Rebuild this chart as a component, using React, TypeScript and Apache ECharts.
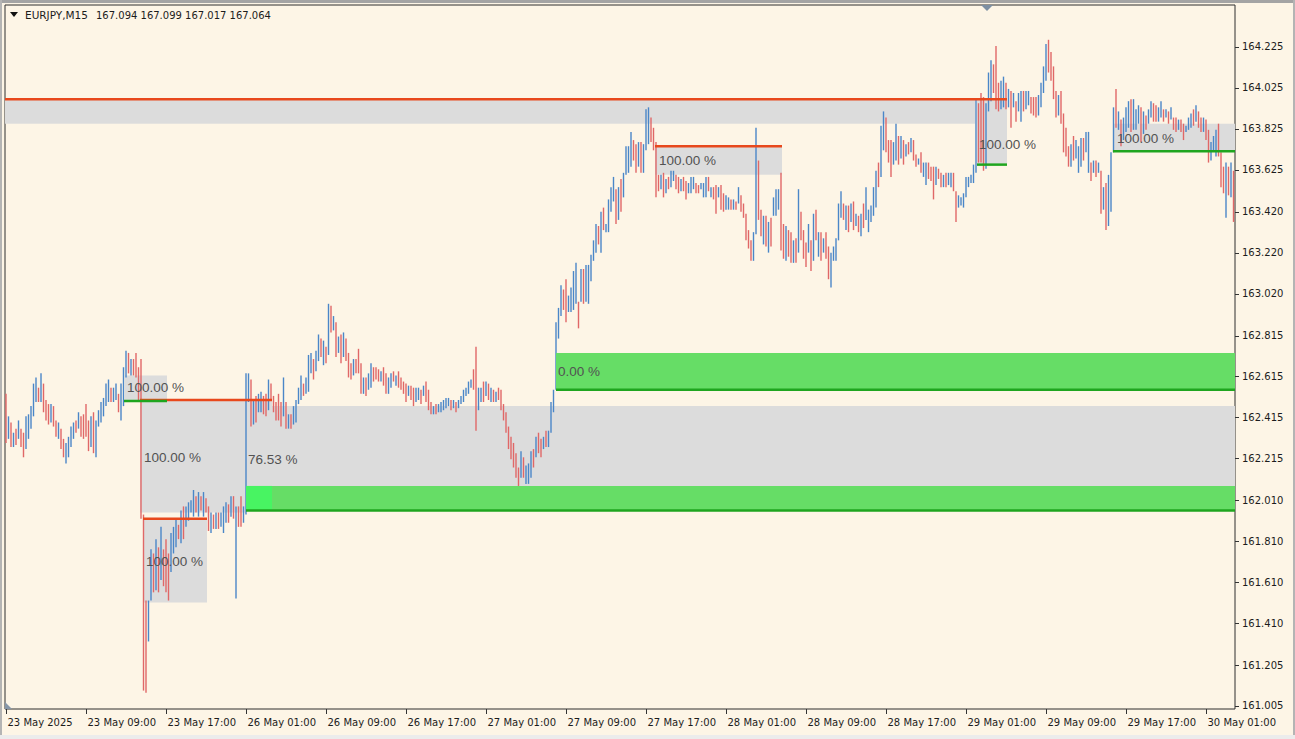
import React, { useEffect, useRef } from "react";
import * as echarts from "echarts";

// ---------- DATA (EURJPY M15 bars) ----------
const OPEN0 = 162.45;
const HIGH = [
  162.53,162.42,162.39,162.34,162.36,162.40,162.36,162.34,162.42,162.43,
  162.47,162.58,162.61,162.56,162.63,162.58,162.50,162.48,162.48,162.47,
  162.40,162.39,162.36,162.31,162.29,162.32,162.37,162.39,162.40,162.44,
  162.42,162.43,162.48,162.40,162.42,162.44,162.40,162.45,162.49,162.51,
  162.58,162.60,162.56,162.56,162.58,162.53,162.58,162.66,162.74,162.73,
  162.70,162.70,162.73,162.66,162.70,161.94,161.52,161.52,161.77,161.75,
  161.82,161.78,161.88,161.77,161.82,161.75,161.85,161.88,161.92,161.89,
  161.96,161.98,161.98,162.00,162.01,162.06,162.03,162.05,162.03,162.05,
  162.02,161.98,161.95,161.94,161.95,161.95,161.95,161.98,162.00,161.99,
  162.03,162.03,161.98,161.98,162.03,161.98,162.63,162.63,162.60,162.50,
  162.52,162.53,162.54,162.52,162.53,162.60,162.58,162.52,162.49,162.53,
  162.49,162.61,162.49,162.43,162.43,162.47,162.50,162.56,162.62,162.58,
  162.61,162.72,162.73,162.70,162.74,162.82,162.80,162.79,162.76,162.97,
  162.96,162.91,162.88,162.81,162.82,162.83,162.80,162.73,162.68,162.70,
  162.70,162.75,162.68,162.61,162.61,162.63,162.68,162.66,162.66,162.65,
  162.64,162.66,162.63,162.61,162.63,162.64,162.62,162.64,162.61,162.59,
  162.58,162.57,162.57,162.56,162.56,162.56,162.55,162.57,162.59,162.55,
  162.49,162.47,162.48,162.48,162.49,162.50,162.51,162.51,162.50,162.50,
  162.49,162.50,162.52,162.55,162.56,162.59,162.60,162.65,162.76,162.56,
  162.56,162.59,162.59,162.58,162.56,162.55,162.54,162.56,162.55,162.48,
  162.44,162.37,162.32,162.29,162.24,162.17,162.25,162.22,162.18,162.19,
  162.25,162.26,162.32,162.34,162.31,162.32,162.35,162.35,162.49,162.55,
  162.88,162.95,163.06,163.04,163.09,163.01,163.05,163.13,163.17,162.98,
  163.14,163.14,163.16,163.16,163.21,163.28,163.36,163.35,163.42,163.44,
  163.36,163.48,163.54,163.59,163.53,163.54,163.58,163.61,163.74,163.74,
  163.81,163.77,163.75,163.76,163.76,163.75,163.92,163.93,163.88,163.83,
  163.76,163.60,163.60,163.61,163.58,163.59,163.62,163.62,163.60,163.59,
  163.58,163.59,163.57,163.56,163.59,163.59,163.56,163.55,163.56,163.56,
  163.59,163.59,163.54,163.54,163.55,163.54,163.55,163.51,163.50,163.49,
  163.48,163.48,163.47,163.54,163.50,163.46,163.41,163.33,163.28,163.32,
  163.83,163.67,163.43,163.40,163.40,163.37,163.39,163.49,163.53,163.53,
  163.61,163.36,163.35,163.33,163.32,163.28,163.29,163.53,163.42,163.33,
  163.27,163.36,163.28,163.41,163.43,163.32,163.32,163.29,163.32,163.25,
  163.22,163.25,163.29,163.46,163.52,163.46,163.45,163.45,163.46,163.47,
  163.41,163.40,163.41,163.46,163.54,163.43,163.45,163.54,163.62,163.66,
  163.84,163.91,163.88,163.77,163.77,163.76,163.85,163.79,163.79,163.77,
  163.75,163.76,163.78,163.77,163.70,163.68,163.71,163.66,163.66,163.66,
  163.64,163.64,163.64,163.63,163.61,163.60,163.61,163.61,163.61,163.61,
  163.52,163.50,163.49,163.51,163.59,163.59,163.60,163.65,163.97,163.95,
  164.00,163.98,163.95,164.10,164.16,164.14,164.23,164.05,164.06,164.08,
  164.05,164.02,164.01,164.00,163.96,164.00,164.01,164.01,164.01,164.01,
  163.98,163.98,163.98,163.99,164.05,164.13,164.24,164.26,164.20,164.13,
  164.01,163.99,164.01,163.90,163.83,163.74,163.75,163.79,163.77,163.74,
  163.78,163.78,163.81,163.81,163.66,163.67,163.67,163.66,163.62,163.54,
  163.56,163.60,163.71,163.93,164.02,163.91,163.87,163.88,163.93,163.96,
  163.97,163.97,163.92,163.94,163.93,163.91,163.89,163.92,163.96,163.95,
  163.94,163.93,163.96,163.92,163.92,163.91,163.93,163.88,163.88,163.87,
  163.87,163.85,163.84,163.88,163.90,163.92,163.94,163.91,163.88,163.88,
  163.87,163.82,163.76,163.79,163.82,163.85,163.71,163.64,163.66,163.64,
  163.66,163.62,
];
const LOW = [
  162.29,162.31,162.27,162.27,162.28,162.31,162.27,162.22,162.26,162.31,
  162.36,162.42,162.49,162.49,162.49,162.44,162.40,162.38,162.39,162.37,
  162.32,162.31,162.26,162.22,162.19,162.22,162.27,162.31,162.34,162.36,
  162.32,162.31,162.32,162.25,162.27,162.24,162.22,162.37,162.39,162.42,
  162.47,162.49,162.49,162.49,162.50,162.44,162.40,162.47,162.61,162.63,
  162.62,162.62,162.61,162.50,161.92,161.08,161.07,161.32,161.52,161.56,
  161.57,161.56,161.62,161.59,161.56,161.52,161.66,161.75,161.78,161.82,
  161.80,161.82,161.88,161.91,161.95,161.93,161.95,161.93,161.96,161.93,
  161.95,161.86,161.85,161.87,161.87,161.87,161.88,161.85,161.90,161.90,
  161.93,161.92,161.53,161.88,161.88,161.90,161.94,162.49,162.37,162.38,
  162.39,162.44,162.44,162.43,162.42,162.45,162.50,162.44,162.40,162.40,
  162.37,162.42,162.36,162.36,162.36,162.38,162.39,162.48,162.50,162.52,
  162.53,162.54,162.63,162.60,162.64,162.69,162.71,162.67,162.68,162.72,
  162.83,162.84,162.71,162.73,162.68,162.71,162.69,162.61,162.60,162.62,
  162.63,162.63,162.53,162.53,162.52,162.55,162.56,162.59,162.60,162.59,
  162.59,162.57,162.53,162.53,162.56,162.59,162.57,162.56,162.55,162.53,
  162.49,162.52,162.50,162.47,162.49,162.50,162.48,162.52,162.49,162.45,
  162.43,162.43,162.43,162.44,162.44,162.45,162.46,162.47,162.45,162.46,
  162.44,162.46,162.48,162.49,162.52,162.53,162.56,162.55,162.35,162.45,
  162.49,162.49,162.52,162.50,162.49,162.49,162.49,162.50,162.45,162.40,
  162.34,162.26,162.21,162.17,162.12,162.07,162.12,162.12,162.09,162.09,
  162.12,162.17,162.22,162.24,162.22,162.26,162.27,162.27,162.34,162.44,
  162.55,162.80,162.91,162.94,162.88,162.93,162.93,162.94,162.97,162.85,
  162.98,162.97,162.98,162.97,163.08,163.18,163.22,163.26,163.22,163.33,
  163.32,163.32,163.42,163.47,163.36,163.38,163.42,163.49,163.60,163.61,
  163.64,163.67,163.61,163.64,163.61,163.61,163.72,163.75,163.76,163.72,
  163.49,163.52,163.53,163.49,163.51,163.53,163.54,163.57,163.53,163.51,
  163.52,163.52,163.48,163.51,163.51,163.53,163.51,163.51,163.53,163.49,
  163.49,163.52,163.49,163.48,163.41,163.49,163.43,163.42,163.43,163.43,
  163.43,163.43,163.43,163.46,163.42,163.39,163.28,163.24,163.18,163.18,
  163.31,163.38,163.30,163.26,163.25,163.22,163.25,163.40,163.40,163.43,
  163.23,163.19,163.18,163.20,163.17,163.17,163.17,163.22,163.28,163.19,
  163.15,163.22,163.13,163.18,163.28,163.20,163.18,163.22,163.19,163.09,
  163.05,163.18,163.18,163.28,163.39,163.38,163.33,163.32,163.37,163.33,
  163.35,163.32,163.30,163.34,163.38,163.32,163.37,163.40,163.44,163.54,
  163.59,163.72,163.71,163.66,163.59,163.65,163.67,163.65,163.68,163.65,
  163.69,163.70,163.71,163.67,163.64,163.65,163.61,163.59,163.55,163.58,
  163.57,163.48,163.55,163.58,163.54,163.54,163.54,163.55,163.54,163.52,
  163.37,163.44,163.45,163.44,163.49,163.54,163.56,163.56,163.61,163.66,
  163.66,163.62,163.63,163.91,163.96,164.00,163.92,163.91,163.92,163.93,
  163.92,163.93,163.83,163.93,163.86,163.91,163.86,163.91,163.92,163.94,
  163.90,163.89,163.88,163.89,163.93,164.00,164.06,164.10,164.06,163.97,
  163.88,163.89,163.85,163.71,163.69,163.64,163.64,163.67,163.68,163.61,
  163.64,163.67,163.71,163.61,163.57,163.61,163.59,163.61,163.41,163.43,
  163.33,163.35,163.42,163.71,163.83,163.82,163.74,163.77,163.81,163.83,
  163.81,163.82,163.82,163.85,163.76,163.80,163.82,163.85,163.88,163.86,
  163.86,163.86,163.88,163.86,163.88,163.85,163.87,163.82,163.81,163.82,
  163.81,163.77,163.81,163.82,163.83,163.84,163.86,163.83,163.81,163.81,
  163.77,163.66,163.67,163.72,163.69,163.69,163.54,163.51,163.39,163.50,
  163.49,163.37,
];
const CLOSE = [
  162.33,162.40,162.29,162.33,162.29,162.39,162.29,162.23,162.40,162.41,
  162.45,162.56,162.60,162.50,162.62,162.46,162.42,162.39,162.46,162.38,
  162.33,162.38,162.27,162.23,162.28,162.31,162.36,162.38,162.35,162.43,
  162.41,162.33,162.32,162.26,162.40,162.26,162.38,162.44,162.48,162.50,
  162.57,162.59,162.50,162.55,162.57,162.45,162.56,162.64,162.73,162.65,
  162.69,162.63,162.62,162.51,161.93,161.30,161.20,161.50,161.74,161.60,
  161.78,161.60,161.85,161.75,161.60,161.55,161.83,161.87,161.90,161.83,
  161.95,161.85,161.97,161.99,162.00,162.05,161.97,162.04,161.97,162.04,
  161.96,161.87,161.94,161.88,161.94,161.88,161.94,161.97,161.99,161.91,
  162.02,161.93,161.96,161.89,161.88,161.97,162.60,162.61,162.39,162.49,
  162.40,162.52,162.53,162.44,162.43,162.58,162.57,162.45,162.41,162.40,
  162.38,162.43,162.37,162.42,162.37,162.46,162.49,162.55,162.61,162.57,
  162.60,162.70,162.72,162.61,162.73,162.81,162.72,162.78,162.75,162.95,
  162.85,162.85,162.73,162.80,162.69,162.72,162.70,162.62,162.61,162.69,
  162.64,162.63,162.54,162.60,162.53,162.62,162.67,162.65,162.61,162.60,
  162.63,162.58,162.54,162.60,162.62,162.60,162.61,162.57,162.56,162.54,
  162.50,162.56,162.51,162.48,162.55,162.56,162.49,162.56,162.50,162.46,
  162.44,162.46,162.44,162.47,162.48,162.49,162.50,162.51,162.46,162.49,
  162.45,162.49,162.51,162.54,162.56,162.58,162.60,162.56,162.40,162.46,
  162.55,162.50,162.58,162.51,162.55,162.50,162.53,162.51,162.46,162.41,
  162.35,162.27,162.22,162.18,162.13,162.08,162.23,162.13,162.17,162.18,
  162.24,162.18,162.31,162.25,162.23,162.31,162.28,162.34,162.47,162.54,
  162.86,162.93,163.05,162.95,162.89,163.00,163.04,163.12,163.16,162.86,
  163.13,162.98,163.15,163.16,163.20,163.27,163.35,163.27,163.41,163.34,
  163.35,163.47,163.53,163.58,163.37,163.53,163.43,163.50,163.73,163.73,
  163.80,163.68,163.62,163.75,163.62,163.62,163.90,163.92,163.77,163.73,
  163.55,163.53,163.59,163.50,163.57,163.54,163.61,163.62,163.54,163.52,
  163.57,163.53,163.49,163.55,163.58,163.59,163.52,163.51,163.55,163.56,
  163.58,163.53,163.54,163.49,163.43,163.53,163.44,163.43,163.43,163.48,
  163.44,163.47,163.44,163.53,163.43,163.40,163.29,163.25,163.19,163.31,
  163.48,163.40,163.31,163.39,163.26,163.36,163.26,163.48,163.52,163.53,
  163.25,163.20,163.34,163.21,163.18,163.27,163.18,163.50,163.29,163.20,
  163.16,163.35,163.14,163.40,163.29,163.31,163.19,163.28,163.20,163.10,
  163.20,163.24,163.28,163.45,163.51,163.39,163.44,163.33,163.45,163.34,
  163.40,163.33,163.40,163.35,163.39,163.42,163.44,163.53,163.60,163.55,
  163.82,163.90,163.72,163.67,163.60,163.75,163.84,163.66,163.78,163.66,
  163.74,163.71,163.71,163.68,163.65,163.68,163.62,163.65,163.66,163.59,
  163.58,163.50,163.63,163.59,163.55,163.59,163.55,163.60,163.61,163.53,
  163.38,163.44,163.48,163.50,163.58,163.59,163.60,163.64,163.95,163.70,
  163.68,163.65,163.93,164.08,164.14,164.13,163.94,163.92,164.05,164.07,
  163.93,163.93,163.84,163.99,163.87,163.99,164.00,163.92,164.00,164.01,
  163.91,163.90,163.89,163.98,164.04,164.12,164.22,164.12,164.07,163.98,
  163.89,163.89,163.86,163.72,163.70,163.65,163.74,163.68,163.69,163.73,
  163.77,163.68,163.80,163.80,163.58,163.66,163.60,163.61,163.42,163.53,
  163.34,163.58,163.69,163.91,163.85,163.90,163.75,163.87,163.92,163.95,
  163.82,163.83,163.91,163.93,163.77,163.90,163.83,163.91,163.95,163.87,
  163.86,163.92,163.95,163.87,163.91,163.86,163.92,163.83,163.82,163.86,
  163.82,163.78,163.83,163.87,163.89,163.85,163.93,163.84,163.82,163.87,
  163.78,163.67,163.75,163.78,163.81,163.70,163.55,163.52,163.64,163.51,
  163.64,163.40,
];

const X_TICK_BARS = [0, 32, 64, 96, 128, 160, 192, 224, 256, 288, 320, 352, 384, 416, 448, 480];
const X_TICK_LABELS = [
  "23 May 2025", "23 May 09:00", "23 May 17:00", "26 May 01:00", "26 May 09:00", "26 May 17:00",
  "27 May 01:00", "27 May 09:00", "27 May 17:00", "28 May 01:00", "28 May 09:00", "28 May 17:00",
  "29 May 01:00", "29 May 09:00", "29 May 17:00", "30 May 01:00",
];
const Y_TICK_LABELS = [
  "164.225", "164.025", "163.825", "163.625", "163.420", "163.220", "163.020", "162.815", "162.615",
  "162.415", "162.215", "162.010", "161.810", "161.610", "161.410", "161.205", "161.005",
];

// zones: [fromBar, toBar, lowPrice, highPrice]
const GREY_ZONES = [
  [-0.4, 387.6, 163.85, 163.97],
  [388.4, 400.4, 163.65, 163.97],
  [47.6, 64.4, 162.5, 162.62],
  [53.6, 96, 161.95, 162.5],
  [96, 106.4, 162.08, 162.5],
  [106.4, 491.6, 162.08, 162.47],
  [54.8, 80.4, 161.51, 161.92],
  [259.6, 310.4, 163.6, 163.74],
  [442.8, 491.6, 163.72, 163.85],
];
const DEMAND_ZONES = [
  [220, 491.6, 162.55, 162.73],
  [96, 491.6, 161.96, 162.08],
];
const FRESH_ZONES = [[96, 106.4, 161.96, 162.08]];
// levels: [fromBar, toBar, price]
const RED_LEVELS = [
  [-0.4, 400.4, 163.97],
  [53.6, 106.4, 162.5],
  [54.8, 80.4, 161.92],
  [259.6, 310.4, 163.74],
];
const GREEN_LEVELS = [
  [47.2, 64.4, 162.495],
  [388.4, 400.4, 163.65],
  [442.8, 491.6, 163.715],
  [220, 491.6, 162.55],
  [96, 491.6, 161.96],
];
const ZONE_LABEL_AT = [
  [48.4, 162.56], [55.2, 162.22], [56, 161.71], [96.8, 162.21],
  [220.8, 162.64], [261.2, 163.67], [389.2, 163.75], [444.4, 163.78],
];
const ZONE_LABEL_TEXT = ["100.00 %", "100.00 %", "100.00 %", "76.53 %", "0.00 %", "100.00 %", "100.00 %", "100.00 %"];

const X_MIN = -0.4;
const X_MAX = 491.6;
const Y_MIN = 160.99;
const Y_MAX = 164.43;

const BLUE = "#4a86c8";
const RED = "#e06767";
const AXIS_FONT = '10px "DejaVu Sans"';
const TEXT_DARK = "#1c1c1c";

function rectRender(fill: string) {
  return (params: any, api: any) => {
    const a = api.coord([api.value(0), api.value(3)]);
    const b = api.coord([api.value(1), api.value(2)]);
    return {
      type: "rect",
      shape: { x: a[0], y: a[1], width: b[0] - a[0], height: b[1] - a[1] },
      style: { fill },
    };
  };
}
function levelRender(stroke: string) {
  return (params: any, api: any) => {
    const a = api.coord([api.value(0), api.value(2)]);
    const b = api.coord([api.value(1), api.value(2)]);
    return {
      type: "line",
      shape: { x1: a[0], y1: a[1], x2: b[0], y2: b[1] },
      style: { stroke, lineWidth: 2.5 },
    };
  };
}

export default function App() {
  const ref = useRef<HTMLDivElement>(null);
  useEffect(() => {
    if (!ref.current) return;
    const chart = echarts.init(ref.current, null, { renderer: "svg" });
    const n = Math.min(HIGH.length, LOW.length, CLOSE.length);
    const bars: number[][] = [];
    for (let i = 0; i < n; i++) {
      const o = i === 0 ? OPEN0 : CLOSE[i - 1];
      bars.push([i, o, CLOSE[i], LOW[i], HIGH[i]]);
    }
    const option: any = {
      animation: false,
      backgroundColor: "transparent",
      grid: {
        left: 5, top: 5, width: 1230, height: 704,
        show: true, borderColor: "#2e2e2e", borderWidth: 1, backgroundColor: "transparent",
      },
      xAxis: { type: "value", min: X_MIN, max: X_MAX, show: false },
      yAxis: { type: "value", min: Y_MIN, max: Y_MAX, show: false },
      series: [
        {
          type: "custom", name: "zones", z: 1, silent: true,
          data: GREY_ZONES, encode: { x: [0, 1], y: [2, 3] },
          renderItem: rectRender("#dcdcdc"),
        },
        {
          type: "custom", name: "bars", z: 2, silent: true,
          data: bars, encode: { x: 0, y: [1, 2, 3, 4] },
          renderItem: (params: any, api: any) => {
            const x = api.value(0);
            const o = api.value(1), c = api.value(2), l = api.value(3), h = api.value(4);
            const ph = api.coord([x, h]);
            const pl = api.coord([x, l]);
            let y1 = ph[1], y2 = pl[1];
            if (y2 - y1 < 1) { y1 -= 0.5; y2 += 0.5; }
            return {
              type: "line",
              shape: { x1: ph[0], y1, x2: ph[0], y2 },
              style: { stroke: c >= o ? BLUE : RED, lineWidth: 1.4 },
            };
          },
        },
        {
          type: "custom", name: "demand", z: 3, silent: true,
          data: DEMAND_ZONES, encode: { x: [0, 1], y: [2, 3] },
          renderItem: rectRender("#66dd66"),
        },
        {
          type: "custom", name: "fresh", z: 3, silent: true,
          data: FRESH_ZONES, encode: { x: [0, 1], y: [2, 3] },
          renderItem: rectRender("#48f462"),
        },
        {
          type: "custom", name: "redLevels", z: 4, silent: true,
          data: RED_LEVELS, encode: { x: [0, 1], y: 2 },
          renderItem: levelRender("#e8481c"),
        },
        {
          type: "custom", name: "greenLevels", z: 5, silent: true,
          data: GREEN_LEVELS, encode: { x: [0, 1], y: 2 },
          renderItem: levelRender("#1fa51f"),
        },
        {
          type: "custom", name: "zoneLabels", z: 6, silent: true,
          data: ZONE_LABEL_AT, encode: { x: 0, y: 1 },
          renderItem: (params: any, api: any) => {
            const p = api.coord([api.value(0), api.value(1)]);
            return {
              type: "text",
              style: {
                text: ZONE_LABEL_TEXT[params.dataIndex], x: p[0], y: p[1],
                fill: "#525252", font: '13.5px "Liberation Sans"',
                textAlign: "left", textVerticalAlign: "middle", align: "left", verticalAlign: "middle",
              },
            };
          },
        },
        {
          type: "custom", name: "yTicks", z: 6, silent: true, clip: false,
          data: Y_TICK_LABELS.map((s) => [X_MAX, parseFloat(s)]), encode: { x: 0, y: 1 },
          renderItem: (params: any, api: any) => {
            const p = api.coord([api.value(0), api.value(1)]);
            const y = Math.round(p[1]) + 0.5;
            return {
              type: "group",
              children: [
                { type: "line", shape: { x1: p[0], y1: y, x2: p[0] + 4, y2: y }, style: { stroke: "#333", lineWidth: 1 } },
                {
                  type: "text",
                  style: {
                    text: Y_TICK_LABELS[params.dataIndex], x: p[0] + 7, y: p[1],
                    fill: TEXT_DARK, font: AXIS_FONT,
                    textAlign: "left", textVerticalAlign: "middle", align: "left", verticalAlign: "middle",
                  },
                },
              ],
            };
          },
        },
        {
          type: "custom", name: "xTicks", z: 6, silent: true, clip: false,
          data: X_TICK_BARS.map((b) => [b, Y_MIN]), encode: { x: 0, y: 1 },
          renderItem: (params: any, api: any) => {
            const p = api.coord([api.value(0), api.value(1)]);
            const x = Math.round(p[0]) + 0.5;
            return {
              type: "group",
              children: [
                { type: "line", shape: { x1: x, y1: p[1], x2: x, y2: p[1] + 5 }, style: { stroke: "#333", lineWidth: 1 } },
                {
                  type: "text",
                  style: {
                    text: X_TICK_LABELS[params.dataIndex], x: x + 1, y: p[1] + 13,
                    fill: TEXT_DARK, font: AXIS_FONT,
                    textAlign: "left", textVerticalAlign: "middle", align: "left", verticalAlign: "middle",
                  },
                },
              ],
            };
          },
        },
      ],
      graphic: [
        { type: "rect", z: 100, shape: { x: 0, y: 0, width: 1295, height: 3 }, style: { fill: "#a4a4a4" } },
        { type: "rect", z: 100, shape: { x: 0, y: 0, width: 2, height: 739 }, style: { fill: "#b4b4b4" } },
        { type: "rect", z: 100, shape: { x: 1293, y: 0, width: 2, height: 739 }, style: { fill: "#b4b4b4" } },
        { type: "rect", z: 100, shape: { x: 0, y: 735, width: 1295, height: 4 }, style: { fill: "#ececec" } },
        { type: "polygon", z: 100, shape: { points: [[10, 12], [18, 12], [14, 17]] }, style: { fill: "#111" } },
        { type: "polygon", z: 100, shape: { points: [[981, 5], [993, 5], [987, 11]] }, style: { fill: "#7d8fa2" } },
        { type: "polygon", z: 100, shape: { points: [[5, 702], [5, 709], [12, 709]] }, style: { fill: "#8797a8" } },
        {
          type: "text", z: 100, x: 25, y: 15,
          style: { text: "EURJPY,M15", fill: TEXT_DARK, font: '10.5px "DejaVu Sans"', textVerticalAlign: "middle", verticalAlign: "middle" },
        },
        {
          type: "text", z: 100, x: 96, y: 15,
          style: { text: "167.094 167.099 167.017 167.064", fill: TEXT_DARK, font: AXIS_FONT, textVerticalAlign: "middle", verticalAlign: "middle" },
        },
      ],
    };
    chart.setOption(option);
    return () => chart.dispose();
  }, []);
  return (
    <div style={{ position: "fixed", left: 0, top: 0, width: 1295, height: 739, background: "#fdf5e6" }}>
      <div ref={ref} style={{ width: 1295, height: 739 }} />
    </div>
  );
}
